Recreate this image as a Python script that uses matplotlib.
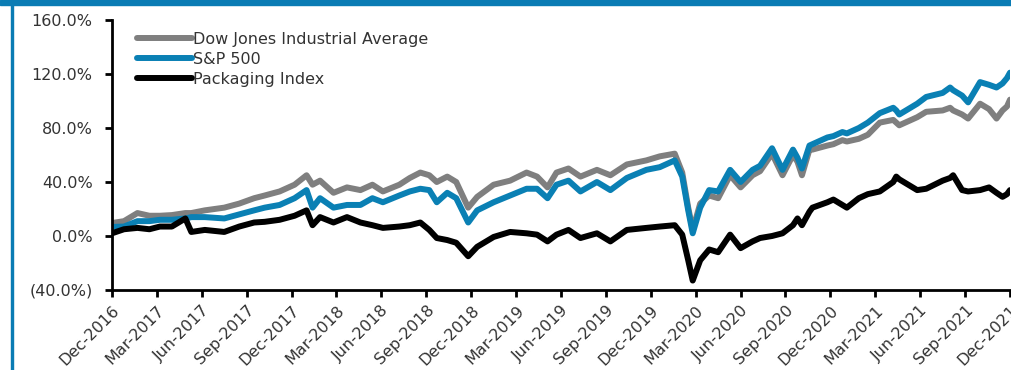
import matplotlib
matplotlib.use("Agg")
import matplotlib.pyplot as plt
from matplotlib.patches import Rectangle
from matplotlib.ticker import FuncFormatter

# months since Dec-2016
months = [0, 0.8, 1.7, 2.5, 3.2, 4.0, 4.9, 5.3, 6.2, 7.5, 8.5, 9.5, 10.2, 11.2,
          12.2, 13.0, 13.4, 13.9, 14.8, 15.7, 16.6, 17.4, 18.1, 19.2, 19.9, 20.6,
          21.2, 21.7, 22.4, 23.0, 23.8, 24.4, 25.5, 26.6, 27.7, 28.4, 29.1, 29.7,
          30.5, 31.3, 32.4, 33.3, 34.4, 35.7, 36.6, 37.6, 38.1, 38.5, 38.8, 39.3,
          39.9, 40.5, 41.3, 42.0, 42.8, 43.3, 44.1, 44.8, 45.5, 45.8, 46.1, 46.6,
          46.8, 47.8, 48.2, 48.8, 49.1, 49.9, 50.5, 51.3, 52.2, 52.4, 52.6, 53.8,
          54.4, 55.5, 56.0, 56.2, 56.8, 57.2, 58.0, 58.6, 59.1, 59.5, 59.8, 60.0]

dow = [9.6, 11, 17, 15, 15, 15.5, 17, 17, 19, 21, 24, 28, 30, 33,
       38, 45, 38, 41, 32, 36, 34, 38, 33, 38, 43, 47,
       45, 40, 44, 40, 21, 29, 38, 41, 47, 44, 36, 47,
       50, 44, 49, 45, 53, 56, 59, 61, 47, 21, 4.5, 24,
       30, 28, 45, 36, 45, 48, 61, 45, 60, 55, 45, 64,
       64, 67, 68, 71, 70, 72, 75, 84, 86, 84, 82, 88,
       92, 93, 95, 93, 90, 87, 98, 94, 87, 93, 96, 101]

sp500 = [6.7, 7, 11, 11, 12, 12, 13, 14, 14, 13, 16, 19, 21, 23,
         28, 34, 21, 28, 21, 23, 23, 28, 25, 30, 33, 35,
         34, 25, 32, 28, 10, 19, 25, 30, 35, 35, 28, 38,
         41, 33, 40, 34, 43, 49, 51, 56, 44, 19, 2, 21,
         34, 33, 49, 40, 49, 52, 65, 49, 64, 58, 50, 67,
         68, 73, 74, 77, 76, 80, 84, 91, 95, 93, 90, 98,
         103, 106, 110, 108, 104, 99, 114, 112, 110, 113, 117, 121]

packaging = [2, 5, 6, 5, 7, 7, 13, 3, 4.5, 3, 7, 10, 10.5, 12,
             15, 19, 8, 14, 10, 14, 10, 8, 6, 7, 8, 10,
             4.5, -1.5, -3, -5, -15, -8, -0.7, 3, 2, 1, -4, 1,
             4.5, -1.5, 2, -4, 4.5, 6, 7, 8, 1, -18, -33, -18,
             -10, -12, 1, -9, -4, -1.5, 0, 2, 8, 13, 8, 18,
             21, 25, 27, 23, 21, 28, 31, 33, 40, 44, 42, 34,
             35, 41, 43, 45, 34, 33, 34, 36, 32, 29, 31, 34]

tick_months = list(range(0, 61, 3))
tick_labels = ["Dec-2016", "Mar-2017", "Jun-2017", "Sep-2017", "Dec-2017",
               "Mar-2018", "Jun-2018", "Sep-2018", "Dec-2018", "Mar-2019",
               "Jun-2019", "Sep-2019", "Dec-2019", "Mar-2020", "Jun-2020",
               "Sep-2020", "Dec-2020", "Mar-2021", "Jun-2021", "Sep-2021",
               "Dec-2021"]

fig = plt.figure(figsize=(10.12, 3.70), dpi=100)
ax = fig.add_axes([112 / 1012, 1 - 290 / 370, 898 / 1012, 270 / 370])

ax.plot(months, dow, color="#7f7f7f", lw=4.3, label="Dow Jones Industrial Average",
        solid_capstyle="round")
ax.plot(months, sp500, color="#0a80b4", lw=4.3, label="S&P 500", solid_capstyle="round")
ax.plot(months, packaging, color="black", lw=4.3, label="Packaging Index",
        solid_capstyle="round")

ax.set_xlim(0, 60)
ax.set_ylim(-40, 160)
ax.set_yticks(range(-40, 161, 40))


def pct(v, pos):
    if v < 0:
        return "(%.1f%%)" % abs(v)
    return "%.1f%%" % v


ax.yaxis.set_major_formatter(FuncFormatter(pct))
ax.set_xticks(tick_months)
ax.set_xticklabels(tick_labels, rotation=45, ha="right", rotation_mode="anchor")

for s in ["top", "right"]:
    ax.spines[s].set_visible(False)
for s in ["left", "bottom"]:
    ax.spines[s].set_linewidth(2)
    ax.spines[s].set_color("black")
ax.tick_params(axis="both", direction="out", length=5, width=2, color="black",
               labelsize=11.5, labelcolor="#333333")
ax.tick_params(axis="y", pad=9)
ax.tick_params(axis="x", pad=4)

leg = ax.legend(loc="upper left", bbox_to_anchor=(0.015, 1.0), frameon=False,
                prop={"size": 11.5}, handlelength=3.4, handletextpad=0.1,
                labelspacing=0.3, borderaxespad=0.35)
for t in leg.get_texts():
    t.set_color("#333333")

# blue frame: band along the top, thin rule on the left
fig.patches.append(Rectangle((0, 1 - 5 / 370), 1, 5 / 370, transform=fig.transFigure,
                             color="#0a7cb4", zorder=0))
fig.patches.append(Rectangle((11 / 1012, 0), 2 / 1012, 1, transform=fig.transFigure,
                             color="#0a7cb4", zorder=0))

fig.savefig("out.png", dpi=100)
